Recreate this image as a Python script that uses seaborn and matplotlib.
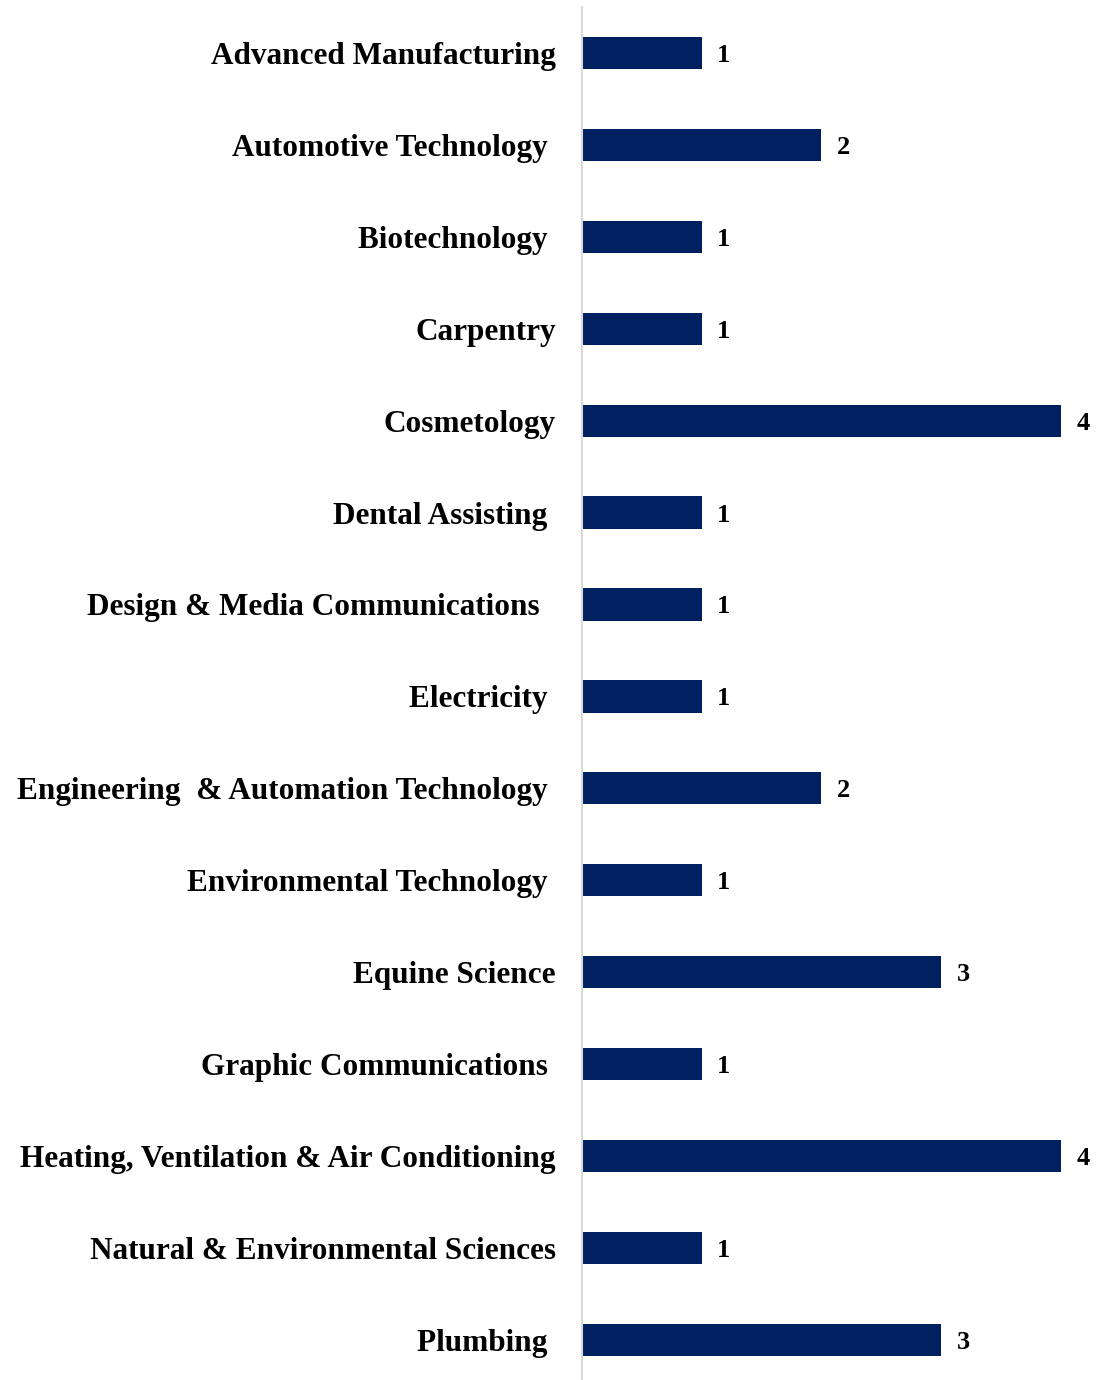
import numpy as np
import pandas as pd
from matplotlib import pyplot as plt
import seaborn as sns

# Data
programs = [
    "Advanced Manufacturing",
    "Automotive Technology ",
    "Biotechnology ",
    "Carpentry",
    "Cosmetology",
    "Dental Assisting ",
    "Design & Media Communications  ",
    "Electricity ",
    "Engineering  & Automation Technology ",
    "Environmental Technology ",
    "Equine Science",
    "Graphic Communications ",
    "Heating, Ventilation & Air Conditioning",
    "Natural & Environmental Sciences",
    "Plumbing ",
]
counts = [1, 2, 1, 1, 4, 1, 1, 1, 2, 1, 3, 1, 4, 1, 3]

df = pd.DataFrame({"Program": programs, "Count": counts})

sns.set_style("white")
plt.rcParams['font.family'] = ['Liberation Serif', 'DejaVu Serif']
plt.rcParams['text.color'] = 'black'
plt.rcParams['ytick.color'] = 'black'

fig = plt.figure(figsize=(10.98, 13.8), dpi=100)
ax = fig.add_axes([0.530, -0.0043, 0.470, 0.9993])

sns.barplot(data=df, x="Count", y="Program", color="#002060",
            width=0.35, saturation=1, linewidth=0, ax=ax)

labels = ax.bar_label(ax.containers[0], padding=11, fontsize=19,
                      fontweight="bold", color="black")
for t in labels:
    t.set_va("center_baseline")

ax.set_xlim(0, 4.31)
ax.set_ylim(14.5, -0.5)
ax.set_xlabel("")
ax.set_ylabel("")
ax.set_xticks([])
ax.tick_params(axis="y", length=0, pad=19, labelsize=22.5, labelcolor="black")
for lbl in ax.get_yticklabels():
    lbl.set_fontweight("bold")

for side in ["top", "right", "bottom"]:
    ax.spines[side].set_visible(False)
ax.spines["left"].set_color("#d9d9d9")
ax.spines["left"].set_linewidth(1.5)

fig.savefig("out.png", dpi=100)
